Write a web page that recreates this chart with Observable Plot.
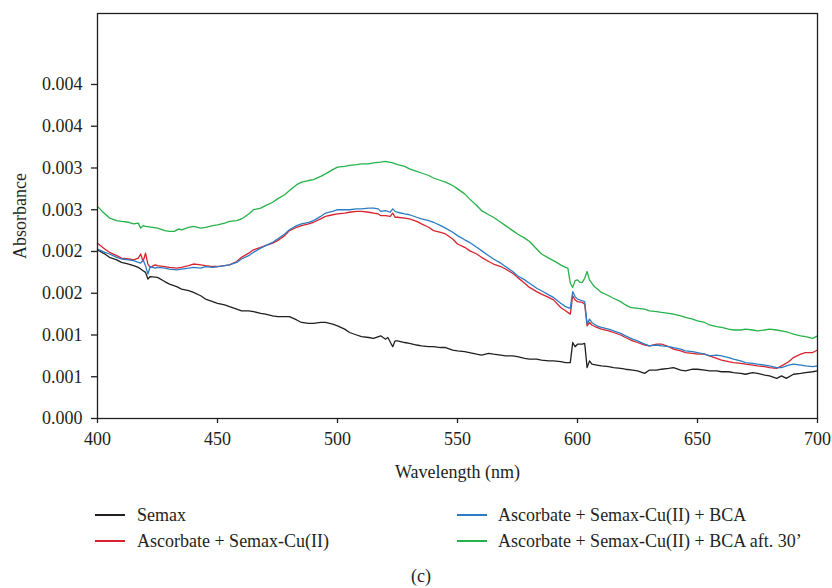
<!DOCTYPE html>
<html>
<head>
<meta charset="utf-8">
<script src="https://cdn.jsdelivr.net/npm/d3@7"></script>
<script src="https://cdn.jsdelivr.net/npm/@observablehq/plot@0.6"></script>
<style>
  html, body { margin: 0; padding: 0; background: white; }
  #wrap { position: relative; width: 832px; height: 588px; overflow: hidden; font-family: "Liberation Serif", serif; color: #231f20; }
  .leg { position: absolute; font-size: 18px; line-height: 20px; white-space: nowrap; }
  .sw { position: absolute; height: 2px; width: 30px; }
  #cap { position: absolute; left: 0; width: 842px; text-align: center; font-size: 18px; top: 566px; }
</style>
</head>
<body>
<div id="wrap"></div>
<script>
// ---- data (absorbance vs wavelength) ----
const xTicks = [400, 450, 500, 550, 600, 650, 700];
const yTicks = [0, 0.0005, 0.001, 0.0015, 0.002, 0.0025, 0.003, 0.0035, 0.004];
const yTickLabels = ["0.000", "0.001", "0.001", "0.002", "0.002", "0.003", "0.003", "0.004", "0.004"];

const seriesNames = [
  "Semax",
  "Ascorbate + Semax-Cu(II)",
  "Ascorbate + Semax-Cu(II) + BCA",
  "Ascorbate + Semax-Cu(II) + BCA aft. 30\u2019"
];
const seriesColors = ["#231f20", "#d8232f", "#2a7cc3", "#25b24a"];

const semax = [
  [400,0.00202],[403,0.00197],[405,0.00193],[408,0.00190],[410,0.00187],[413,0.00185],[415,0.00183],[417,0.00181],[418,0.00179],[419,0.00177],[420,0.00175],[421,0.00167],[422,0.00170],[425,0.00169],[428,0.00164],[430,0.00161],[433,0.00158],[435,0.00155],[438,0.00153],[440,0.00151],[443,0.00147],[445,0.00143],[448,0.00140],[450,0.00138],[453,0.00136],[455,0.00134],[458,0.00131],[460,0.00129],[463,0.00129],[465,0.00128],[468,0.00126],[470,0.00125],[473,0.00123],[475,0.00122],[478,0.00122],[480,0.00122],[483,0.00118],[485,0.00115],[488,0.00114],[490,0.00114],[493,0.00115],[495,0.00115],[498,0.00113],[500,0.00111],[503,0.00107],[505,0.00103],[508,0.00100],[510,0.00098],[513,0.00097],[515,0.00096],[518,0.00099],[520,0.00095],[521,0.00097],[523,0.00086],[524,0.00093],[525,0.00093],[528,0.00091],[530,0.00090],[533,0.00088],[535,0.00087],[538,0.00086],[540,0.00086],[543,0.00085],[545,0.00085],[548,0.00082],[550,0.00081],[553,0.00080],[555,0.00079],[558,0.00077],[560,0.00076],[563,0.00078],[565,0.00077],[568,0.00076],[570,0.00075],[573,0.00075],[575,0.00074],[578,0.00072],[580,0.00071],[583,0.00071],[585,0.00070],[588,0.00069],[590,0.00069],[593,0.00068],[595,0.00067],[597,0.00067],[598,0.00091],[599,0.00086],[600,0.00089],[602,0.00089],[603,0.00090],[604,0.00061],[605,0.00069],[606,0.00065],[608,0.00064],[610,0.00063],[613,0.00062],[615,0.00061],[618,0.00060],[620,0.00059],[623,0.00058],[625,0.00057],[628,0.00054],[630,0.00058],[633,0.00058],[635,0.00059],[638,0.00060],[640,0.00061],[643,0.00058],[645,0.00057],[648,0.00059],[650,0.00059],[653,0.00058],[655,0.00057],[658,0.00057],[660,0.00056],[663,0.00056],[665,0.00055],[668,0.00054],[670,0.00053],[673,0.00055],[675,0.00054],[678,0.00052],[680,0.00051],[683,0.00048],[685,0.00051],[687,0.00048],[690,0.00053],[693,0.00054],[695,0.00055],[698,0.00056],[700,0.00057]
];

const ascSemaxCu = [
  [400,0.00210],[403,0.00203],[405,0.00199],[408,0.00195],[410,0.00192],[413,0.00191],[415,0.00190],[417,0.00192],[418,0.00197],[419,0.00188],[420,0.00198],[421,0.00185],[422,0.00181],[424,0.00184],[425,0.00183],[428,0.00182],[430,0.00181],[433,0.00180],[435,0.00181],[438,0.00183],[440,0.00185],[443,0.00184],[445,0.00183],[448,0.00182],[450,0.00182],[453,0.00183],[455,0.00184],[458,0.00188],[460,0.00193],[463,0.00198],[465,0.00202],[468,0.00205],[470,0.00207],[473,0.00210],[475,0.00213],[478,0.00219],[480,0.00225],[483,0.00229],[485,0.00231],[488,0.00233],[490,0.00235],[493,0.00239],[495,0.00242],[498,0.00244],[500,0.00245],[503,0.00246],[505,0.00247],[508,0.00248],[510,0.00248],[513,0.00247],[515,0.00246],[517,0.00245],[518,0.00243],[520,0.00243],[522,0.00242],[523,0.00246],[524,0.00241],[525,0.00241],[528,0.00240],[530,0.00239],[533,0.00236],[535,0.00233],[538,0.00229],[540,0.00225],[543,0.00223],[545,0.00221],[548,0.00215],[550,0.00209],[553,0.00205],[555,0.00201],[558,0.00197],[560,0.00193],[563,0.00188],[565,0.00185],[568,0.00182],[570,0.00179],[573,0.00174],[575,0.00169],[578,0.00162],[580,0.00157],[583,0.00152],[585,0.00149],[588,0.00145],[590,0.00142],[593,0.00133],[595,0.00129],[597,0.00125],[598,0.00147],[599,0.00142],[600,0.00140],[602,0.00139],[603,0.00137],[604,0.00111],[605,0.00115],[606,0.00112],[608,0.00109],[610,0.00107],[613,0.00105],[615,0.00103],[618,0.00100],[620,0.00097],[623,0.00093],[625,0.00091],[628,0.00088],[630,0.00087],[633,0.00089],[635,0.00089],[638,0.00086],[640,0.00083],[643,0.00081],[645,0.00079],[648,0.00078],[650,0.00077],[653,0.00077],[655,0.00075],[658,0.00072],[660,0.00070],[663,0.00068],[665,0.00067],[668,0.00066],[670,0.00065],[673,0.00064],[675,0.00063],[678,0.00062],[680,0.00061],[683,0.00060],[685,0.00063],[688,0.00068],[690,0.00073],[693,0.00077],[695,0.00079],[698,0.00079],[700,0.00082]
];

const ascSemaxCuBca = [
  [400,0.00203],[403,0.00199],[405,0.00197],[408,0.00193],[410,0.00191],[413,0.00190],[415,0.00189],[418,0.00186],[419,0.00190],[420,0.00183],[421,0.00173],[422,0.00182],[424,0.00180],[425,0.00181],[428,0.00180],[430,0.00179],[433,0.00178],[435,0.00179],[438,0.00180],[440,0.00181],[443,0.00180],[445,0.00182],[448,0.00181],[450,0.00182],[453,0.00183],[455,0.00184],[458,0.00187],[460,0.00191],[463,0.00195],[465,0.00199],[468,0.00204],[470,0.00207],[473,0.00211],[475,0.00215],[478,0.00221],[480,0.00226],[483,0.00231],[485,0.00233],[488,0.00235],[490,0.00237],[493,0.00242],[495,0.00246],[498,0.00248],[500,0.00250],[503,0.00250],[505,0.00250],[508,0.00251],[510,0.00251],[513,0.00252],[515,0.00252],[517,0.00251],[518,0.00248],[520,0.00249],[522,0.00247],[523,0.00251],[524,0.00248],[525,0.00247],[528,0.00245],[530,0.00244],[533,0.00241],[535,0.00239],[538,0.00237],[540,0.00235],[543,0.00231],[545,0.00228],[548,0.00223],[550,0.00219],[553,0.00214],[555,0.00211],[558,0.00205],[560,0.00201],[563,0.00195],[565,0.00191],[568,0.00186],[570,0.00182],[573,0.00176],[575,0.00171],[578,0.00166],[580,0.00162],[583,0.00156],[585,0.00153],[588,0.00148],[590,0.00145],[593,0.00138],[595,0.00134],[597,0.00132],[598,0.00152],[599,0.00146],[600,0.00143],[602,0.00141],[603,0.00140],[604,0.00113],[605,0.00119],[606,0.00115],[608,0.00111],[610,0.00109],[613,0.00107],[615,0.00105],[618,0.00102],[620,0.00099],[623,0.00095],[625,0.00093],[628,0.00089],[630,0.00087],[633,0.00088],[635,0.00087],[638,0.00086],[640,0.00085],[643,0.00083],[645,0.00081],[648,0.00080],[650,0.00079],[653,0.00077],[655,0.00075],[658,0.00076],[660,0.00075],[663,0.00073],[665,0.00071],[668,0.00069],[670,0.00067],[673,0.00066],[675,0.00065],[678,0.00064],[680,0.00063],[683,0.00061],[685,0.00061],[688,0.00064],[690,0.00065],[693,0.00064],[695,0.00063],[698,0.00062],[700,0.00063]
];

const ascSemaxCuBca30 = [
  [400,0.00254],[402,0.00248],[405,0.00240],[408,0.00237],[410,0.00236],[413,0.00235],[415,0.00233],[417,0.00234],[418,0.00228],[419,0.00231],[420,0.00230],[423,0.00229],[425,0.00228],[428,0.00225],[430,0.00224],[432,0.00224],[434,0.00227],[435,0.00226],[438,0.00229],[440,0.00230],[443,0.00228],[445,0.00229],[448,0.00231],[450,0.00232],[453,0.00234],[455,0.00236],[458,0.00237],[460,0.00239],[463,0.00245],[465,0.00250],[468,0.00252],[470,0.00255],[473,0.00259],[475,0.00263],[478,0.00268],[480,0.00273],[483,0.00280],[485,0.00283],[488,0.00285],[490,0.00286],[493,0.00290],[495,0.00293],[498,0.00298],[500,0.00301],[503,0.00302],[505,0.00303],[508,0.00304],[510,0.00305],[513,0.00305],[515,0.00306],[518,0.00307],[520,0.00308],[523,0.00306],[525,0.00304],[528,0.00302],[530,0.00299],[533,0.00296],[535,0.00294],[538,0.00291],[540,0.00288],[543,0.00285],[545,0.00283],[548,0.00279],[550,0.00275],[553,0.00269],[555,0.00263],[558,0.00255],[560,0.00249],[563,0.00244],[565,0.00241],[568,0.00235],[570,0.00231],[573,0.00225],[575,0.00221],[578,0.00216],[580,0.00212],[583,0.00203],[585,0.00197],[588,0.00192],[590,0.00189],[593,0.00184],[595,0.00181],[596,0.00180],[597,0.00162],[598,0.00157],[599,0.00165],[600,0.00166],[601,0.00163],[602,0.00163],[603,0.00168],[604,0.00176],[605,0.00166],[607,0.00158],[610,0.00151],[613,0.00147],[615,0.00144],[618,0.00140],[620,0.00136],[622,0.00133],[625,0.00132],[628,0.00131],[630,0.00129],[633,0.00128],[635,0.00127],[638,0.00126],[640,0.00125],[643,0.00123],[645,0.00121],[648,0.00119],[650,0.00117],[653,0.00115],[655,0.00112],[658,0.00110],[660,0.00109],[663,0.00107],[665,0.00106],[668,0.00106],[670,0.00107],[673,0.00106],[675,0.00105],[678,0.00106],[680,0.00107],[683,0.00106],[685,0.00105],[688,0.00103],[690,0.00101],[693,0.00099],[695,0.00098],[698,0.00096],[700,0.00099]
];

const allSeries = [semax, ascSemaxCu, ascSemaxCuBca, ascSemaxCuBca30];

// ---- chart ----
const ink = "#231f20";
const chart = Plot.plot({
  width: 832,
  height: 490,
  marginLeft: 97,
  marginRight: 15,
  marginTop: 13,
  marginBottom: 72,
  style: { fontFamily: "Liberation Serif, serif", fontSize: "18px", color: ink, background: "white", overflow: "visible" },
  x: { domain: [400, 700] },
  y: { domain: [0, 0.00485] },
  marks: [
    ...allSeries.map((s, i) => Plot.line(s, { x: d => d[0], y: d => d[1], stroke: seriesColors[i], strokeWidth: 1.3 })),
    Plot.frame({ stroke: ink, strokeWidth: 1.3 }),
    Plot.axisX({ ticks: xTicks, tickSize: 5, tickPadding: 9, tickFormat: d => String(d), stroke: ink, strokeWidth: 1.3,
      label: "Wavelength (nm)", labelAnchor: "center", labelOffset: 59, labelArrow: "none" }),
    Plot.axisY({ ticks: yTicks, tickSize: 6, tickPadding: 9, tickFormat: d => yTickLabels[yTicks.indexOf(d)], stroke: ink, strokeWidth: 1.3,
      label: "Absorbance", labelAnchor: "center", labelOffset: 84, labelArrow: "none" })
  ]
});

const wrap = document.getElementById("wrap");
chart.style.position = "absolute";
chart.style.left = "0px";
chart.style.top = "0px";
wrap.appendChild(chart);

// ---- legend (HTML, below the SVG) ----
const legPos = [
  { lx: 95, tx: 137, y: 515 },
  { lx: 95, tx: 137, y: 541 },
  { lx: 457, tx: 498, y: 515 },
  { lx: 457, tx: 498, y: 541 }
];
seriesNames.forEach((name, i) => {
  const p = legPos[i];
  const sw = document.createElement("div");
  sw.className = "sw";
  sw.style.left = p.lx + "px";
  sw.style.top = (p.y - 1) + "px";
  sw.style.background = seriesColors[i];
  wrap.appendChild(sw);
  const t = document.createElement("div");
  t.className = "leg";
  t.style.left = p.tx + "px";
  t.style.top = (p.y - 10) + "px";
  t.textContent = name;
  wrap.appendChild(t);
});
const cap = document.createElement("div");
cap.id = "cap";
cap.textContent = "(c)";
wrap.appendChild(cap);
</script>
</body>
</html>
